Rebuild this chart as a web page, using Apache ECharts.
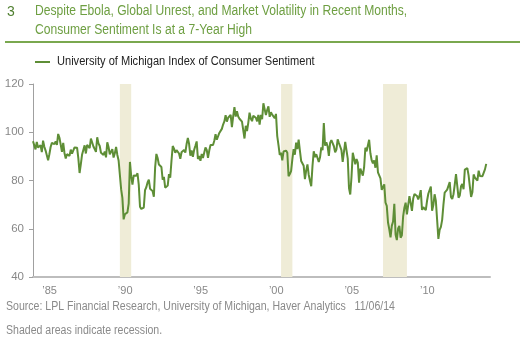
<!DOCTYPE html>
<html>
<head>
<meta charset="utf-8">
<script src="https://cdn.jsdelivr.net/npm/echarts@6/dist/echarts.min.js"></script>
<style>
html,body{margin:0;padding:0;background:#fff;}
#c{width:525px;height:343px;}
</style>
</head>
<body>
<div id="c"></div>
<script>
// Monthly series, starting October 1984
var startYear = 1984;
var startMonth = 10;
var sentiment = [
  96.3, 95.7, 92.9,
  96.0, 93.7, 93.7, 94.6, 91.8, 96.5, 94.0, 92.4, 92.1, 88.4, 90.9, 93.9,
  95.6, 95.9, 95.1, 96.2, 94.8, 99.3, 97.7, 94.9, 91.9, 95.6, 91.4, 89.1,
  90.9, 90.5, 90.2, 92.8, 91.1, 91.5, 93.7, 94.4, 93.6, 89.3, 83.1, 86.8,
  90.8, 91.6, 94.6, 91.2, 94.8, 94.7, 93.4, 97.4, 97.3, 94.1, 93.0, 91.9,
  97.9, 95.4, 94.3, 91.5, 90.7, 90.6, 92.0, 89.6, 95.8, 93.9, 90.9, 90.5,
  93.0, 89.5, 91.3, 93.9, 90.6, 88.3, 88.2, 76.4, 72.8, 63.9, 66.0, 65.5,
  66.8, 70.4, 87.7, 81.8, 78.3, 82.1, 82.9, 82.0, 83.0, 78.3, 69.1, 68.2,
  67.5, 68.8, 76.0, 77.2, 79.2, 80.4, 76.6, 76.1, 75.6, 73.3, 85.3, 91.0,
  89.3, 86.6, 85.9, 85.6, 80.3, 81.5, 77.0, 77.3, 77.9, 82.7, 81.2, 88.2,
  94.3, 93.2, 91.5, 92.6, 92.8, 91.2, 89.0, 91.7, 91.5, 92.7, 91.6, 95.1,
  97.6, 95.1, 90.3, 92.5, 89.8, 92.7, 94.4, 96.2, 88.9, 90.2, 88.2, 91.0,
  89.3, 88.5, 93.7, 92.7, 89.4, 92.4, 94.7, 95.3, 94.7, 96.5, 99.2, 96.9,
  97.4, 99.7, 100.0, 101.4, 103.2, 104.5, 107.1, 104.4, 106.0, 105.6, 107.2, 102.1,
  106.6, 110.4, 106.5, 108.7, 106.5, 105.6, 105.2, 104.4, 100.9, 97.4, 102.7, 100.5,
  103.9, 108.1, 105.7, 104.6, 106.8, 107.3, 106.0, 104.5, 107.2, 103.2, 107.2, 105.4,
  112.0, 111.3, 107.1, 109.2, 110.7, 106.4, 108.3, 107.3, 106.8, 105.8, 107.6, 98.4,
  94.7, 90.6, 91.5, 88.4, 92.0, 92.6, 92.4, 91.5, 81.8, 82.7, 83.9, 88.8,
  93.0, 90.7, 95.7, 93.0, 96.9, 92.4, 88.1, 87.6, 86.1, 80.6, 84.2, 86.7,
  82.4, 79.9, 77.6, 86.0, 92.1, 89.7, 90.9, 89.3, 87.7, 89.6, 93.7, 92.6,
  103.8, 94.4, 95.8, 94.2, 90.2, 95.6, 96.7, 95.9, 94.2, 91.7, 92.8, 97.1,
  95.5, 94.1, 92.6, 87.7, 86.9, 96.0, 96.5, 89.1, 76.9, 74.2, 81.6, 91.5,
  91.2, 86.7, 88.9, 87.4, 79.1, 84.9, 84.7, 82.0, 85.4, 93.6, 92.1, 91.7,
  96.9, 91.3, 88.4, 87.1, 88.3, 85.3, 90.4, 83.4, 83.4, 80.9, 76.1, 75.5,
  78.4, 70.8, 69.5, 62.6, 59.8, 56.4, 61.2, 63.0, 70.3, 57.6, 55.3, 60.1,
  61.2, 56.3, 57.3, 65.1, 68.7, 70.8, 66.0, 65.7, 73.5, 70.6, 67.4, 72.5,
  74.4, 73.6, 73.6, 72.2, 73.6, 76.0, 67.8, 68.9, 68.2, 67.7, 71.6, 74.5,
  74.2, 77.5, 67.5, 69.8, 74.3, 71.5, 63.7, 55.8, 59.5, 60.8, 63.7, 69.9,
  75.0, 75.3, 76.2, 76.4, 79.3, 73.2, 72.3, 74.3, 78.3, 82.6, 82.7, 72.9,
  73.8, 77.6, 78.6, 76.4, 84.5, 84.1, 85.1, 82.1, 77.5, 73.2, 75.1, 82.5,
  81.2, 81.6, 80.0, 84.1, 81.9, 82.5, 81.8, 82.5, 84.6, 86.9
];
// Recessions: [start, end] in decimal years
var recessionStart = [1990.5, 2001.17, 2007.92];
var recessionEnd = [1991.25, 2001.92, 2009.5];
// x tick labels
var xTickYears = [1985, 1990, 1995, 2000, 2005, 2010];
var xTickLabels = ['\u201985', '\u201990', '\u201995', '\u201900', '\u201905', '\u201910'];
var seriesName = 'University of Michigan Index of Consumer Sentiment';

var FONT = '"Liberation Sans", Arial, sans-serif';
var GREEN = '#5E8E36';
var TITLE_GREEN = '#6E9F42';

var points = sentiment.map(function (v, i) {
  var m = startMonth - 1 + i;
  return [startYear + m / 12, v];
});
var labelOffset = 0.85;
var xLabelPos = xTickYears.map(function (y) { return y + labelOffset; });

function txt(str, x, y, size, color, sx) {
  return {
    type: 'text', x: x, y: y, scaleX: sx, scaleY: 1,
    style: {text: str, x: 0, y: 0, fill: color, font: size + 'px ' + FONT, textVerticalAlign: 'top'}
  };
}

var chart = echarts.init(document.getElementById('c'), null, {renderer: 'canvas'});
chart.setOption({
  animation: false,
  backgroundColor: '#fff',
  grid: {left: 33, right: 35, top: 84, bottom: 66},
  legend: {show: false, data: [seriesName]},
  xAxis: {
    type: 'value', min: 1984.75, max: 2015.0,
    axisLine: {show: true, lineStyle: {color: '#bdbdbd', width: 2}},
    axisTick: {show: false},
    splitLine: {show: false},
    axisLabel: {
      customValues: xLabelPos,
      color: '#888', fontFamily: FONT, fontSize: 11, margin: 8,
      formatter: function (v) {
        var idx = xLabelPos.findIndex(function (p) { return Math.abs(p - v) < 0.01; });
        return idx >= 0 ? xTickLabels[idx] : '';
      }
    }
  },
  yAxis: {
    type: 'value', min: 40, max: 120, interval: 20,
    axisLine: {show: true, lineStyle: {color: '#a0a0a0', width: 1}},
    axisTick: {show: true, length: 4, lineStyle: {color: '#a0a0a0'}},
    splitLine: {show: false},
    axisLabel: {color: '#888', fontFamily: FONT, fontSize: 11.5, margin: 9}
  },
  series: [{
    name: seriesName,
    type: 'line',
    data: points,
    showSymbol: false,
    symbol: 'none',
    lineStyle: {color: GREEN, width: 2},
    itemStyle: {color: GREEN},
    z: 3,
    markArea: {
      silent: true,
      itemStyle: {color: '#EFECD7'},
      data: recessionStart.map(function (s, i) {
        return [{xAxis: s}, {xAxis: recessionEnd[i]}];
      })
    }
  }],
  graphic: [
    txt('3', 7, 5, 14, '#4F7F2F', 1),
    txt('Despite Ebola, Global Unrest, and Market Volatility in Recent Months,', 35, 4.5, 14, TITLE_GREEN, 0.865),
    txt('Consumer Sentiment Is at a 7-Year High', 35, 23.5, 14, TITLE_GREEN, 0.865),
    {type: 'rect', shape: {x: 5, y: 41, width: 515, height: 2}, style: {fill: '#7AA84F'}},
    {type: 'rect', shape: {x: 35, y: 61, width: 15, height: 2}, style: {fill: GREEN}},
    txt(seriesName, 57, 55.5, 12.5, '#222', 0.885),
    txt('Source: LPL Financial Research, University of Michigan, Haver Analytics   11/06/14', 6, 301, 12, '#8a8a8a', 0.88),
    txt('Shaded areas indicate recession.', 6, 325, 12, '#8a8a8a', 0.88)
  ]
});
</script>
</body>
</html>
